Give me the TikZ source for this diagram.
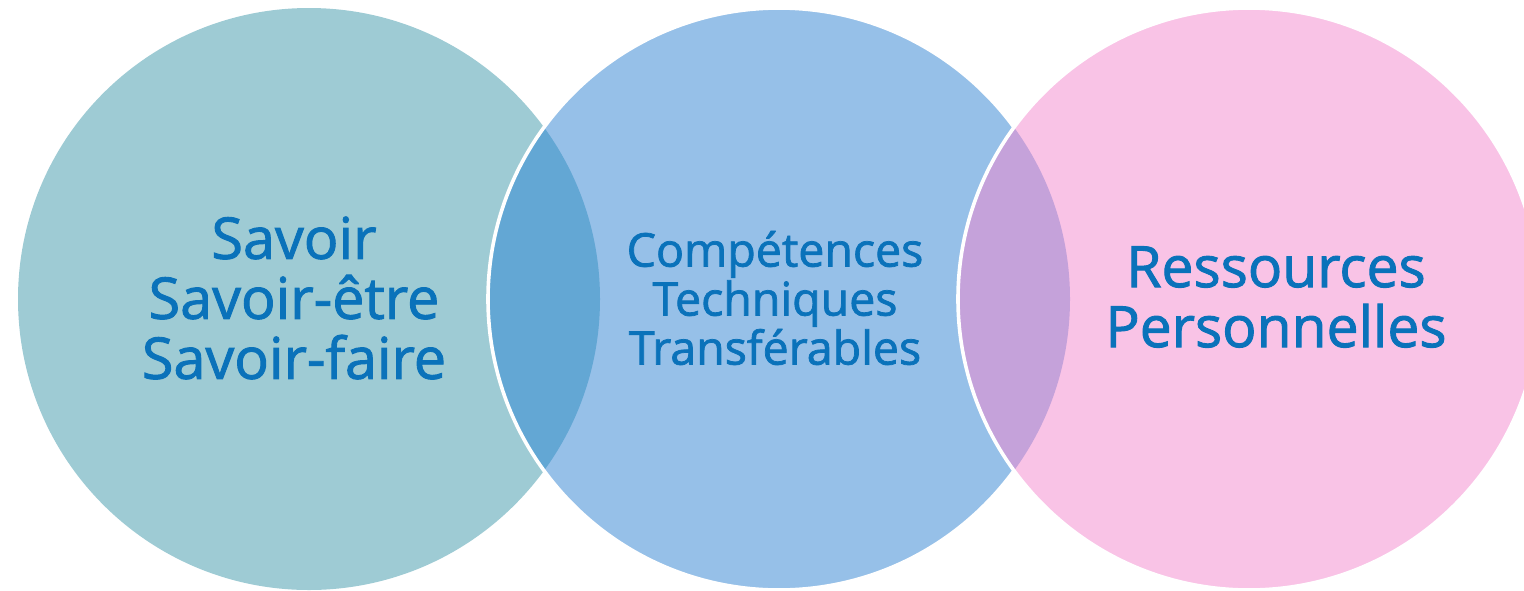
\documentclass[tikz,border=0pt]{standalone}
\usepackage{fontspec}
\setmainfont{Open Sans}[FakeBold=1.6]
\definecolor{cleft}{HTML}{9ECBD4}
\definecolor{cmid}{HTML}{96C0E8}
\definecolor{cright}{HTML}{F9C3E6}
\definecolor{lensA}{HTML}{63A7D4}
\definecolor{lensB}{HTML}{C5A2DA}
\definecolor{ctext}{HTML}{0A72BA}
\begin{document}
\begin{tikzpicture}[x=1pt,y=-1pt,
  rim/.style={draw=white,line width=3.6pt},
  label/.style={text=ctext,align=center,inner sep=0pt}]
\useasboundingbox (0,0) rectangle (1524,590);
\coordinate (cL) at (309,299);
\coordinate (cM) at (779,299);
\coordinate (cR) at (1249,299);
% left circle
\fill[cleft] (cL) circle[radius=291pt];
% middle circle
\fill[cmid] (cM) circle[radius=291pt];
\begin{scope}
  \clip (cL) circle[radius=291pt];
  \fill[lensA] (cM) circle[radius=291pt];
\end{scope}
\draw[rim] (cM) circle[radius=291pt];
% right circle
\fill[cright] (cR) circle[radius=291pt];
\begin{scope}
  \clip (cM) circle[radius=291pt];
  \fill[lensB] (cR) circle[radius=291pt];
\end{scope}
\draw[rim] (cR) circle[radius=291pt];
% texts
\node[label,font=\fontsize{57.5}{60}\selectfont] (tL) at (294,298) {Savoir\\Savoir-être\\Savoir-faire};
\node[label,font=\fontsize{46.5}{49}\selectfont] (tM) at (775,298) {Compétences\\Techniques\\Transférables};
\node[label,font=\fontsize{57}{60}\selectfont] (tR) at (1276,297) {Ressources\\Personnelles};
\end{tikzpicture}
\end{document}
